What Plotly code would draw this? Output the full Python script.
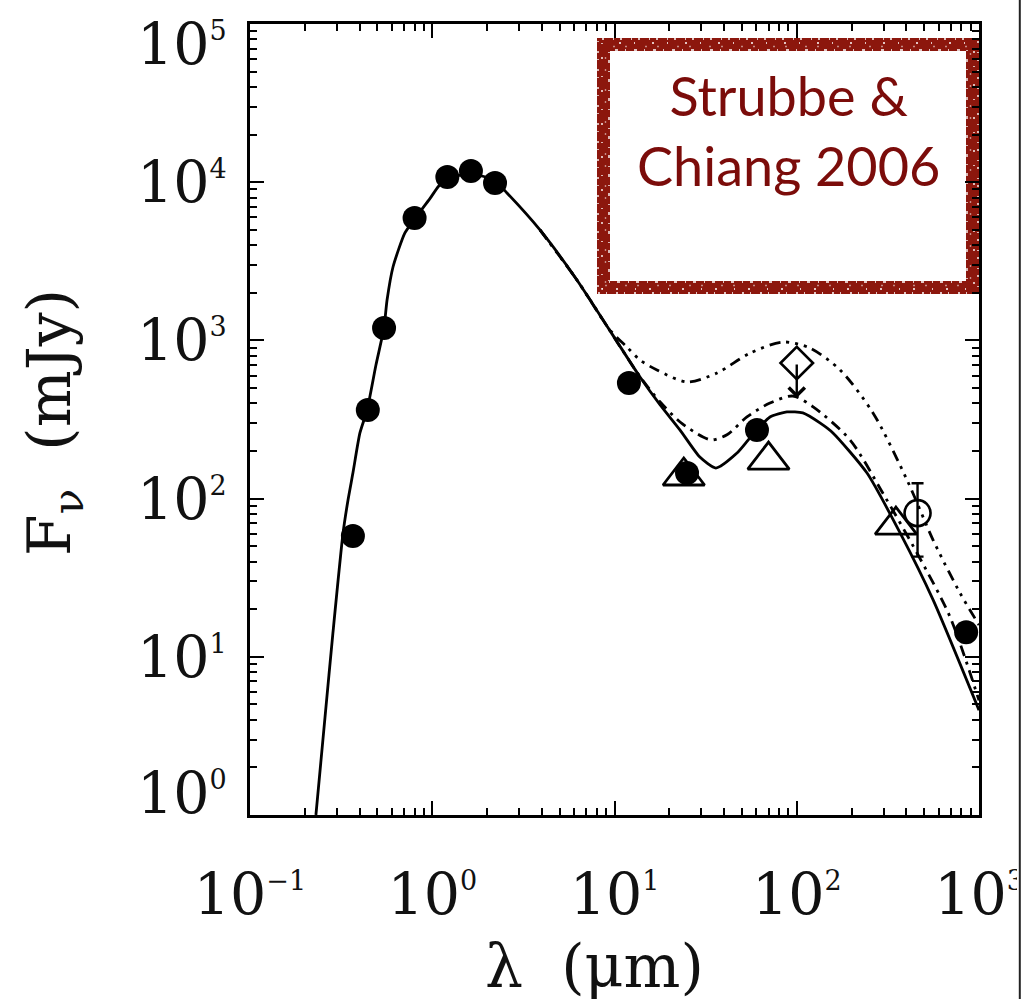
import numpy as np
import plotly.graph_objects as go

# ---------------- data ----------------
# broadband photometry (filled circles): wavelength in micron, flux in mJy
phot_wavelength = [0.367, 0.443, 0.544, 0.80, 1.21, 1.63, 2.21, 12.0, 25.0, 60.5, 850.0]
phot_flux = [58, 363, 1198, 5940, 10790, 11770, 9890, 538, 145, 271, 14.3]

# open triangles
tri_wavelength = [24.0, 70.0, 350.0]
tri_flux = [139, 175, 68]

# open circle with error bar
circ_wavelength = [460.0]
circ_flux = [81]
circ_err_plus = [44]
circ_err_minus = [38]

# upper limit (open diamond with arrow)
lim_wavelength = [100.0]
lim_flux = [720]
lim_arrow_tip = [432]

# best-fit disk model (solid)
model_wavelength = [0.230, 0.258, 0.285, 0.324, 0.345, 0.367, 0.401, 0.439, 0.491, 0.543,
                    0.565, 0.609, 0.708, 0.815, 0.973, 1.08, 1.22, 1.63, 2.18, 2.57,
                    3.90, 6.22, 13.8, 17.8, 22.9, 29.4, 36.0, 47.0, 55.4,
                    71.3, 88.3, 108, 134, 158, 243, 369, 560, 1000]
model_flux = [1.0, 4.16, 14.1, 60.6, 98, 145, 260, 363, 699, 1197,
              1800, 2911, 4780, 6030, 7900, 9400, 10640, 11270, 10330, 8550,
              4990, 2410, 587, 391, 271, 183, 156, 194, 242,
              328, 353, 348, 301, 260, 145, 60.7, 22.9, 4.6]

# alternative model (dash-dot)
alt1_wavelength = [3.90, 6.22, 13.8, 17.8, 22.9, 30.6, 34.3, 41.4, 53.3, 71.3, 95.3,
                   123, 196, 297, 457, 693, 1000]
alt1_flux = [4990, 2410, 590, 408, 305, 245, 235, 253, 328, 402, 445,
             380, 235, 108, 45.3, 17.9, 5.3]

# alternative model (dash-dot-dot-dot)
alt2_wavelength = [3.90, 6.22, 9.44, 11.7, 13.8, 17.1, 25.0, 36.5, 55.5, 84.1, 118,
                   173, 262, 403, 560, 787, 1000]
alt2_flux = [4990, 2410, 1164, 908, 752, 650, 546, 622, 832, 977, 895,
             650, 348, 131, 54.7, 25.3, 15.9]

# axis ticks
x_tick_values = [0.1, 1, 10, 100, 1000]
x_tick_exponents = ["\u22121", "0", "1", "2", "3"]
y_tick_values = [1, 10, 100, 1000, 1e4, 1e5]
y_tick_exponents = ["0", "1", "2", "3", "4", "5"]

x_title = "\u03bb  (\u03bcm)"
y_title = "F<sub>\u03bd</sub>\u00a0 (mJy)"
box_text = "Strubbe &amp;<br>Chiang 2006"

# ---------------- layout geometry ----------------
W, H = 1024, 999
PL, PR, PT, PB = 250, 979, 24, 815


def px_x(p):
    return (p - PL) / (PR - PL)


def px_y(p):
    return (PB - p) / (PB - PT)


SERIF = "DejaVu Serif"
SUP = '<sup><span style="font-size:27px">{}</span></sup>'


def power_label(exp):
    return "10" + SUP.format(exp)


fig = go.Figure()

line_black = "black"
fig.add_trace(go.Scatter(x=alt2_wavelength, y=alt2_flux, mode="lines",
                         line=dict(color=line_black, width=2.8, shape="spline", smoothing=0.8,
                                   dash="11px,6px,3px,6px,3px,6px,3px,6px"),
                         hoverinfo="skip"))
fig.add_trace(go.Scatter(x=alt1_wavelength, y=alt1_flux, mode="lines",
                         line=dict(color=line_black, width=2.8, shape="spline", smoothing=0.8,
                                   dash="11px,6px,3px,6px"),
                         hoverinfo="skip"))
fig.add_trace(go.Scatter(x=model_wavelength, y=model_flux, mode="lines",
                         line=dict(color=line_black, width=2.8, shape="spline", smoothing=0.6),
                         hoverinfo="skip"))

fig.add_trace(go.Scatter(x=tri_wavelength, y=tri_flux, mode="markers",
                         marker=dict(symbol="triangle-up-open", size=36, color="black",
                                     line=dict(width=2.8, color="black"))))
fig.add_trace(go.Scatter(x=circ_wavelength, y=circ_flux, mode="markers",
                         marker=dict(symbol="circle-open", size=26, color="black",
                                     line=dict(width=2.6, color="black")),
                         error_y=dict(type="data", symmetric=False, array=circ_err_plus,
                                      arrayminus=circ_err_minus, color="black",
                                      thickness=2.4, width=6)))
fig.add_trace(go.Scatter(x=lim_wavelength, y=lim_flux, mode="markers",
                         marker=dict(symbol="diamond-open", size=25, color="black",
                                     line=dict(width=2.6, color="black"))))
fig.add_trace(go.Scatter(x=phot_wavelength, y=phot_flux, mode="markers",
                         marker=dict(symbol="circle", size=24, color="black",
                                     line=dict(width=0))))

annotations = []
# upper-limit arrow
for lw, lf, lt in zip(lim_wavelength, lim_flux, lim_arrow_tip):
    annotations.append(dict(x=np.log10(lw), y=np.log10(lt), ax=np.log10(lw), ay=np.log10(lf),
                            xref="x", yref="y", axref="x", ayref="y", text="",
                            showarrow=True, arrowhead=4, arrowsize=1.3, arrowwidth=2.4,
                            arrowcolor="black", standoff=0, startstandoff=0))

# y tick labels
for i, (v, e) in enumerate(zip(y_tick_values, y_tick_exponents)):
    shift = 0
    if i == 0:
        shift = 22
    elif i == len(y_tick_values) - 1:
        shift = -20
    annotations.append(dict(x=px_x(229), y=np.log10(v), xref="paper", yref="y",
                            text=power_label(e), showarrow=False, xanchor="right",
                            yanchor="middle", yshift=shift,
                            font=dict(family=SERIF, size=57, color="#111")))

# axis titles
annotations.append(dict(x=px_x(594), y=px_y(966), xref="paper", yref="paper", text=x_title,
                        showarrow=False, xanchor="center", yanchor="middle",
                        font=dict(family=SERIF, size=60, color="#111")))
annotations.append(dict(x=px_x(53), y=px_y(423), xref="paper", yref="paper", text=y_title,
                        showarrow=False, xanchor="center", yanchor="middle", textangle=-90,
                        font=dict(family=SERIF, size=60, color="#111")))

# citation box text
annotations.append(dict(x=px_x(788), y=px_y(131), xref="paper", yref="paper", text=box_text,
                        showarrow=False, xanchor="center", yanchor="middle",
                        font=dict(family="Lato", size=54, color="#7b0c0a")))

RED = "#8c170d"
bx0, bx1, by0, by1 = 603.5, 972.5, 44.5, 287.5
shapes = [
    dict(type="rect", xref="paper", yref="paper", x0=px_x(bx0), x1=px_x(bx1),
         y0=px_y(by1), y1=px_y(by0), line=dict(color=RED, width=13),
         fillcolor="white", layer="below"),
]
# chalky speckles along the frame edges
for off, dash in [(-5.5, "2px,6px,1px,9px"), (5.5, "1px,7px,3px,8px"), (-1.5, "1px,13px,2px,17px"),
                  (2.0, "1px,19px,1px,11px")]:
    shapes.append(dict(type="rect", xref="paper", yref="paper",
                       x0=px_x(bx0 + off), x1=px_x(bx1 - off),
                       y0=px_y(by1 - off), y1=px_y(by0 + off),
                       line=dict(color="white", width=1.4, dash=dash), layer="below"))
# page edge
shapes.append(dict(type="rect", xref="paper", yref="paper", x0=px_x(1017), x1=px_x(1030),
                   y0=px_y(H + 5), y1=px_y(-5), line=dict(width=0), fillcolor="white",
                   layer="above"))
shapes.append(dict(type="line", xref="paper", yref="paper", x0=px_x(1019.8), x1=px_x(1019.8),
                   y0=px_y(H + 5), y1=px_y(-5), line=dict(color="#222", width=2),
                   layer="above"))


def minor_ticks(lo, hi):
    vals = []
    for n in range(lo, hi):
        for k in range(2, 10):
            vals.append(k * 10.0 ** n)
    return vals


axis_common = dict(type="log", showgrid=False, zeroline=False, showline=True,
                   linecolor="black", linewidth=3, mirror="allticks", ticks="inside",
                   ticklen=14, tickwidth=2, tickcolor="black", automargin=False)

fig.update_layout(
    width=W, height=H, autosize=False,
    margin=dict(l=PL, r=W - PR, t=PT, b=H - PB, pad=0, autoexpand=False),
    paper_bgcolor="white", plot_bgcolor="white", showlegend=False,
    xaxis=dict(**axis_common, range=[-1, 3], tickmode="array", tickvals=x_tick_values,
               ticktext=[power_label(e) for e in x_tick_exponents],
               tickfont=dict(family=SERIF, size=57, color="#111"), ticklabelstandoff=28,
               minor=dict(tickmode="array", tickvals=minor_ticks(-1, 3), ticks="inside",
                          ticklen=7, tickwidth=2, tickcolor="black", showgrid=False)),
    yaxis=dict(**axis_common, range=[0, 5], tickmode="array", tickvals=y_tick_values,
               showticklabels=False,
               minor=dict(tickmode="array", tickvals=minor_ticks(0, 5), ticks="inside",
                          ticklen=7, tickwidth=2, tickcolor="black", showgrid=False)),
    annotations=annotations, shapes=shapes,
)

fig.write_html("out.html", config={"displayModeBar": False})
